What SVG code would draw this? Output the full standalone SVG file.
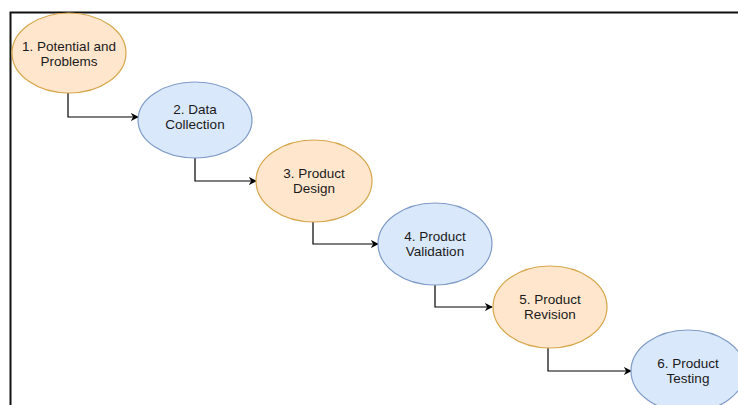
<svg xmlns="http://www.w3.org/2000/svg" width="738" height="405" viewBox="0 0 738 405">
<defs>
<marker id="arr" viewBox="0 0 10 10" refX="9" refY="5" markerWidth="8" markerHeight="8" markerUnits="userSpaceOnUse" orient="auto">
<path d="M0,0 L10,5 L0,10 L3,5 z" fill="#000"/>
</marker>
<style>
.o{fill:#ffe6cc;stroke:#d6a64a;stroke-width:1.2}
.b{fill:#dae8fc;stroke:#7f9bc7;stroke-width:1.2}
.t{font-family:"Liberation Sans",Arial,sans-serif;font-size:13.5px;fill:#1a1a1a;text-anchor:middle}
.c{fill:none;stroke:#000;stroke-width:1.2;marker-end:url(#arr)}
</style>
</defs>
<rect width="738" height="405" fill="#fff"/>
<path d="M10.5,405 V12.5 H738" fill="none" stroke="#111" stroke-width="2"/>
<g id="connectors">
<path class="c" d="M68,93 V117 H138"/>
<path class="c" d="M195,158 V181 H256"/>
<path class="c" d="M313,222 V244 H378"/>
<path class="c" d="M435,285 V307 H492"/>
<path class="c" d="M548,348 V371 H631"/>
</g>
<g id="n1"><ellipse class="o" cx="69" cy="53" rx="57" ry="40"/>
<text class="t" x="69" y="51">1. Potential and</text><text class="t" x="69" y="66">Problems</text></g>
<g id="n2"><ellipse class="b" cx="195" cy="120" rx="57" ry="38"/>
<text class="t" x="195" y="114">2. Data</text><text class="t" x="195" y="129">Collection</text></g>
<g id="n3"><ellipse class="o" cx="314" cy="181" rx="58" ry="41"/>
<text class="t" x="314" y="178">3. Product</text><text class="t" x="314" y="193">Design</text></g>
<g id="n4"><ellipse class="b" cx="435" cy="244" rx="57" ry="41"/>
<text class="t" x="435" y="241">4. Product</text><text class="t" x="435" y="256">Validation</text></g>
<g id="n5"><ellipse class="o" cx="550" cy="307" rx="57" ry="41"/>
<text class="t" x="550" y="304">5. Product</text><text class="t" x="550" y="319">Revision</text></g>
<g id="n6"><ellipse class="b" cx="688" cy="371" rx="57" ry="41"/>
<text class="t" x="688" y="368">6. Product</text><text class="t" x="688" y="383">Testing</text></g>
</svg>
